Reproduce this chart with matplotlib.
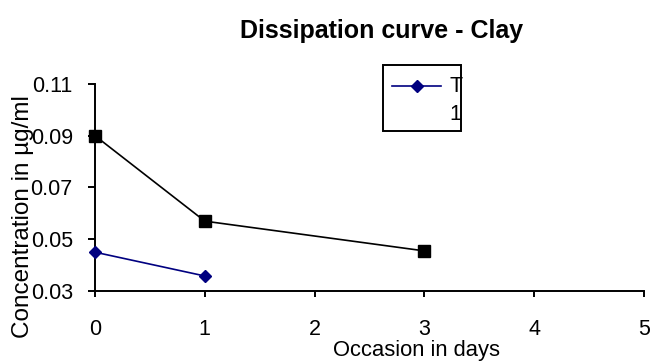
import matplotlib
matplotlib.use("Agg")
import matplotlib.pyplot as plt
from matplotlib.lines import Line2D
from matplotlib.patches import Rectangle

plt.rcParams['font.family'] = ['Liberation Sans', 'DejaVu Sans']

# Residue measurements
days_t = [0, 1]
conc_t = [0.045, 0.0358]
days_1 = [0, 1, 3]
conc_1 = [0.090, 0.057, 0.0455]

x_ticks = [0, 1, 2, 3, 4, 5]
y_ticks = [0.03, 0.05, 0.07, 0.09, 0.11]
y_tick_labels = ["0.03", "0.05", "0.07", "0.09", "0.11"]

W, H = 650, 362
fig = plt.figure(figsize=(W / 100, H / 100), dpi=100)
ax = fig.add_axes([95 / W, (H - 291) / H, (644 - 95) / W, (291 - 84) / H])

ax.plot(days_1, conc_1, color="black", lw=1.2, marker="s", ms=8.5,
        markerfacecolor="black", markeredgecolor="black", clip_on=False, zorder=3)
ax.plot(days_t, conc_t, color="#000080", lw=1.2, marker="D", ms=6.5,
        markerfacecolor="#000080", markeredgecolor="#000080", clip_on=False, zorder=3)

ax.set_xlim(0, 5)
ax.set_ylim(0.03, 0.11)
ax.set_xticks(x_ticks)
ax.set_yticks(y_ticks)
ax.set_yticklabels(y_tick_labels)

for s in ["top", "right"]:
    ax.spines[s].set_visible(False)
for s in ["left", "bottom"]:
    ax.spines[s].set_linewidth(1.4)

ax.tick_params(axis="y", direction="out", length=5, width=1.4, pad=11, labelsize=15.5)
ax.tick_params(axis="x", direction="out", length=4, width=1.4, pad=16, labelsize=15.5)

ax.set_xlabel("Occasion in days", fontsize=15.8, va="baseline")
ax.xaxis.set_label_coords(0.585, -0.312)
ax.set_ylabel("Concentration in µg/ml", fontsize=17.5, va="baseline")
ax.yaxis.set_label_coords(-0.120, 0.362)

fig.text(382 / W, (H - 38) / H, "Dissipation curve - Clay", ha="center",
         va="baseline", fontsize=18, fontweight="bold")

# Legend box
fig.patches.append(Rectangle((383 / W, (H - 131) / H), 78 / W, 66 / H,
                             transform=fig.transFigure, fill=False,
                             edgecolor="black", lw=1.4))
fig.lines.append(Line2D([392 / W, 417 / W, 441 / W], [(H - 86) / H] * 3,
                        transform=fig.transFigure, color="#000080", lw=1.2,
                        marker="D", markevery=[1], ms=6.5))
fig.text(449 / W, (H - 86) / H, "T", ha="left", va="center", fontsize=15.5)
fig.text(449 / W, (H - 114.5) / H, "1", ha="left", va="center", fontsize=15.5)

fig.savefig("out.png", dpi=100)
